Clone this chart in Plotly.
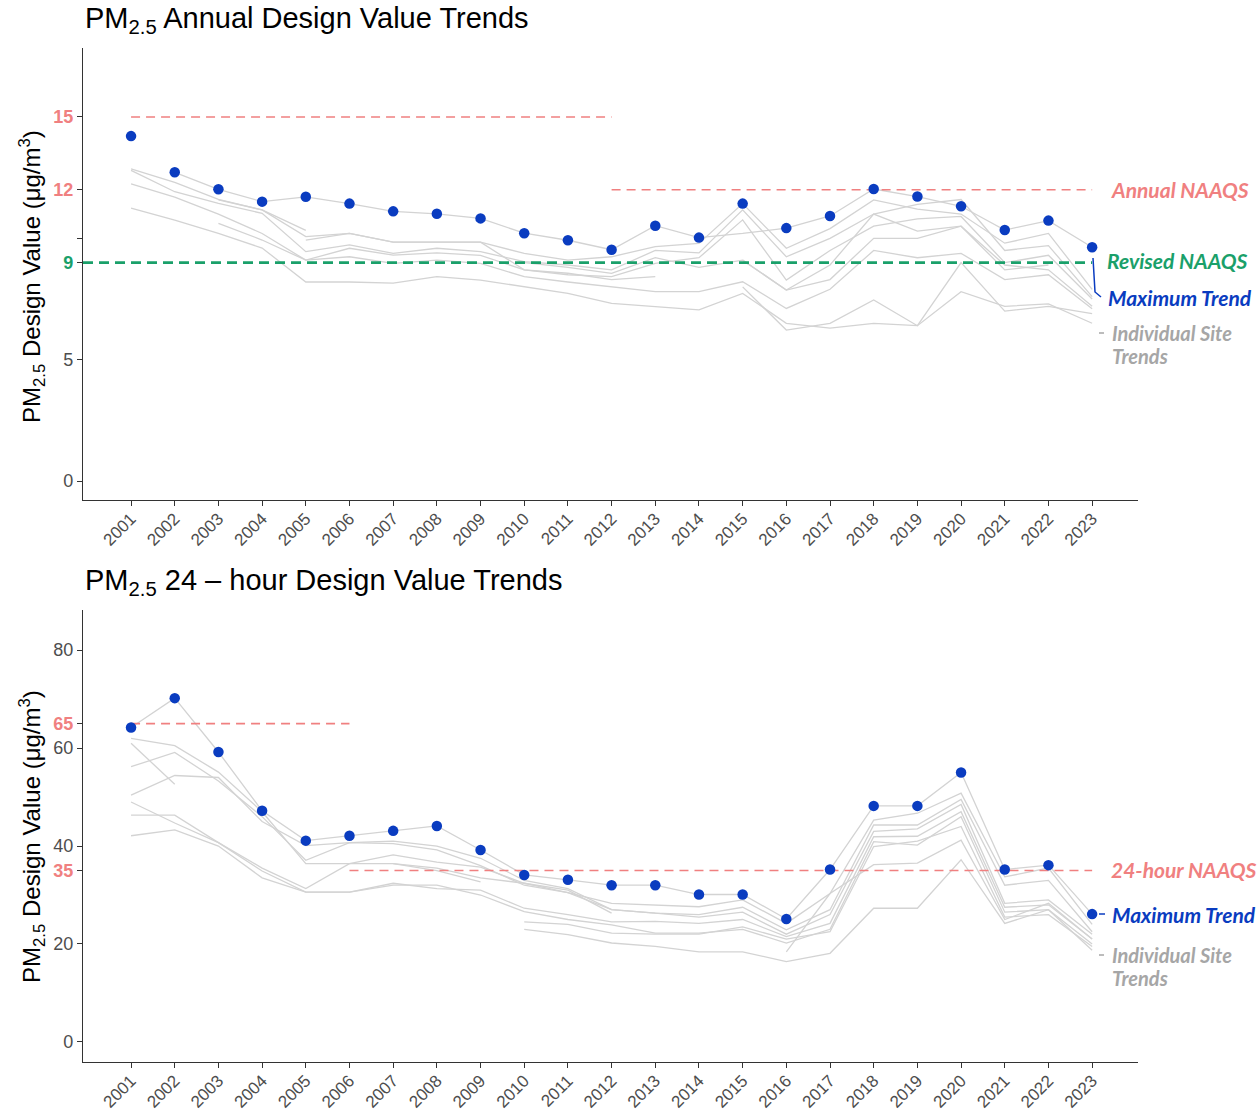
import plotly.graph_objects as go

W, H = 1260, 1114
PLOT_L, PLOT_R = 83, 1138          # plot-area edges in window pixels
ML = PLOT_L
MR = W - PLOT_R
PW = PLOT_R - PLOT_L

years = list(range(2001, 2024))
year_labels = [str(y) for y in years]

# ---------------- Annual chart data ----------------
annual_max = [14.21, 12.72, 12.02, 11.51, 11.71, 11.43, 11.11, 11.01, 10.82, 10.21, 9.92, 9.53,
              10.52, 10.03, 11.43, 10.42, 10.92, 12.03, 11.72, 11.32, 10.34, 10.73, 9.63]
N = None
annual_site_a = [N, 12.72, 12.02, 11.51, 11.71, 11.43, 11.11, 11.01, 10.82, 10.21, 9.92, 9.53,
                 10.52, 10.03, 10.2, 10.42, 10.92, 12.03, 11.72, 11.32, 10.34, 10.73, 9.63]
annual_site_b = [12.86, 12.3, 11.6, 11.17, 10.07, 10.2, 9.84, 9.84, 9.84, 9.38, 9.1, 9.24,
                 9.66, 9.79, 11.43, 9.59, 10.4, 11.58, 11.2, 11.0, 9.8, 10.2, 7.9]
annual_site_c = [12.8, 11.92, 11.44, 11.03, 9.45, 9.73, 9.38, 9.59, 9.45, 9.04, 8.9, 8.7,
                 9.5, 9.4, 11.17, 9.24, 10.0, 11.0, 11.4, 11.6, 9.5, 9.7, 7.6]
annual_site_d = [12.24, 11.7, 11.0, 10.2, 9.1, 9.59, 9.31, 9.4, 9.3, 8.7, 8.5, 8.42,
                 8.97, 9.2, 10.76, 8.28, 9.5, 10.5, 10.8, 10.9, 9.0, 9.3, 7.5]
annual_site_e = [11.24, 10.75, 10.2, 9.6, 8.2, 8.2, 8.15, 8.42, 8.28, 8.0, 7.73, 7.32,
                 7.2, 7.05, 7.73, 6.5, 6.3, 6.5, 6.4, 7.8, 7.2, 7.3, 6.5]
annual_site_f = [N, N, 10.62, 9.93, 9.1, 9.24, 8.97, 9.1, 8.97, 8.42, 8.2, 8.0,
                 7.8, 7.8, 8.21, 7.11, 7.9, 9.5, 9.2, 9.38, 8.3, 8.5, 7.1]
annual_site_g = [N, N, 11.58, 11.17, 10.33, N, N, N, N, N, N, N,
                 N, N, N, N, N, N, N, N, N, N, N]
annual_site_h = [N, N, N, N, 9.93, 10.2, 9.84, 9.84, 9.84, 8.7, 8.56, 8.3,
                 8.42, N, N, N, N, N, N, N, N, N, N]
annual_site_i = [N, N, N, N, N, N, N, N, N, 9.0, 8.8, 8.56,
                 9.2, 8.8, 9.1, 7.87, 8.3, 10.0, 10.0, 10.5, 8.9, 8.7, 7.2]
annual_site_j = [N, N, N, N, N, N, N, N, N, N, N, N,
                 N, N, 9.1, 7.87, 8.9, 11.0, 10.3, 10.5, 8.7, 8.9, N]
annual_site_k = [N, N, N, N, N, N, N, N, N, N, N, N,
                 N, N, 8.0, 6.22, 6.5, 7.46, 6.4, 9.0, 7.0, 7.2, 6.9]
annual_sites = [annual_site_a, annual_site_b, annual_site_c, annual_site_d, annual_site_e,
                annual_site_f, annual_site_g, annual_site_h, annual_site_i, annual_site_j,
                annual_site_k]

annual_old_naaqs_x = [2001, 2012]
annual_old_naaqs_y = [15, 15]
annual_naaqs_x = [2012, 2023]
annual_naaqs_y = [12, 12]
revised_naaqs_x = [1999.9, 2023]
revised_naaqs_y = [9, 9]

# ---------------- 24-hour chart data ----------------
daily_max = [64.2, 70.2, 59.2, 47.2, 41.1, 42.1, 43.1, 44.1, 39.2, 34.1, 33.1, 32.0,
             32.0, 30.1, 30.1, 25.1, 35.2, 48.2, 48.2, 55.0, 35.2, 36.1, 26.1]
daily_site_a = list(daily_max)
daily_site_b = [62.0, 60.5, 55.1, 47.0, 36.4, 36.4, 36.4, 35.5, 33.5, 32.4, 30.5, 28.3,
                27.9, 27.6, 29.0, 24.2, 30.3, 45.3, 46.7, 50.8, 33.7, 35.5, 24.0]
daily_site_c = [61.0, 52.6, N, N, N, N, N, N, N, N, N, N,
                N, N, N, N, N, N, N, N, N, N, N]
daily_site_d = [56.2, 59.1, 53.3, 46.0, 37.1, 40.7, 41.0, 40.0, 37.5, 33.0, 31.3, 27.0,
                26.3, 26.0, 27.5, 22.9, 27.0, 44.3, 44.3, 49.5, 32.0, 33.0, 22.5]
daily_site_e = [50.4, 54.4, 54.0, 45.0, 40.1, 40.7, 40.5, 39.2, 36.0, 32.0, 30.5, 27.0,
                26.3, 25.5, 26.5, 22.0, 26.0, 43.0, 43.5, 48.5, 28.3, 29.0, 22.0]
daily_site_f = [49.0, 44.7, 40.7, 35.5, 31.3, 36.4, 38.2, 36.7, 35.7, 32.4, 31.0, 26.3,
                N, N, N, N, N, N, N, N, N, N, N]
daily_site_g = [46.3, 46.3, 40.7, 34.9, 30.6, 30.6, 32.4, 31.3, 31.0, 27.3, 26.0, 24.5,
                24.6, 24.2, 25.0, 21.5, 24.2, 41.9, 42.0, 47.0, 27.5, 28.0, 21.0]
daily_site_h = [42.1, 43.3, 40.0, 33.5, 30.6, 30.6, 32.0, 32.0, 30.0, 26.6, 25.0, 23.9,
                22.2, 22.2, 23.0, 20.2, 23.0, 40.9, 40.2, 46.0, 26.5, 27.0, 20.0]
daily_site_i = [N, N, N, N, N, N, N, N, N, 24.5, 24.0, 22.2,
                22.0, 22.0, 23.5, 21.0, 22.5, 39.9, 41.0, 44.0, 25.5, 26.0, 19.5]
daily_site_j = [N, N, N, N, N, N, N, N, N, 23.0, 21.9, 20.2,
                19.5, 18.4, 18.4, 16.4, 18.1, 27.3, 27.3, 37.2, 24.2, 27.0, 18.7]
daily_site_k = [N, N, N, N, N, N, N, N, N, N, N, N,
                N, N, N, 18.4, 30.3, 36.2, 36.5, 41.2, 25.0, 28.3, 21.0]
daily_site_l = [N, N, N, N, N, N, 36.4, 35.0, 32.7, N, N, N,
                N, N, N, N, N, N, N, N, N, N, N]
daily_sites = [daily_site_a, daily_site_b, daily_site_c, daily_site_d, daily_site_e,
               daily_site_f, daily_site_g, daily_site_h, daily_site_i, daily_site_j,
               daily_site_k, daily_site_l]

daily_old_naaqs_x = [2001, 2006]
daily_old_naaqs_y = [65, 65]
daily_naaqs_x = [2006, 2023]
daily_naaqs_y = [35, 35]

# ---------------- styling ----------------
RED = "#F08080"
GREEN = "#1AA06A"
BLUE = "#0A3CC0"
GRAY_LINE = "#D3D3D3"
GRAY_TXT = "#A6A6A6"
AX = "#333333"
TICK_TXT = "#4D4D4D"
FONT = "Liberation Sans, Arial, sans-serif"
ANN_FONT = "Lato, Open Sans, sans-serif"


def px(x):
    """window pixel x -> paper coordinate"""
    return (x - PLOT_L) / PW


def py(y):
    """window pixel y -> paper coordinate"""
    return 1 - y / H


fig = go.Figure()


def add_panel(sites, xa, ya):
    for s in sites:
        fig.add_trace(go.Scatter(x=years, y=s, mode="lines", xaxis=xa, yaxis=ya,
                                 line=dict(color=GRAY_LINE, width=1.3),
                                 connectgaps=False, showlegend=False, hoverinfo="skip"))


add_panel(annual_sites, "x", "y")
fig.add_trace(go.Scatter(x=annual_old_naaqs_x, y=annual_old_naaqs_y, mode="lines",
                         line=dict(color=RED, width=1.6, dash="9px,6px"), showlegend=False))
fig.add_trace(go.Scatter(x=annual_naaqs_x, y=annual_naaqs_y, mode="lines",
                         line=dict(color=RED, width=1.6, dash="9px,6px"), showlegend=False))
fig.add_trace(go.Scatter(x=revised_naaqs_x, y=revised_naaqs_y, mode="lines",
                         line=dict(color=GREEN, width=2.6, dash="10px,6px"), showlegend=False))
fig.add_trace(go.Scatter(x=years, y=annual_max, mode="markers",
                         marker=dict(color=BLUE, size=10.5), showlegend=False))

add_panel(daily_sites, "x2", "y2")
fig.add_trace(go.Scatter(x=daily_old_naaqs_x, y=daily_old_naaqs_y, mode="lines", xaxis="x2", yaxis="y2",
                         line=dict(color=RED, width=1.6, dash="9px,6px"), showlegend=False))
fig.add_trace(go.Scatter(x=daily_naaqs_x, y=daily_naaqs_y, mode="lines", xaxis="x2", yaxis="y2",
                         line=dict(color=RED, width=1.6, dash="9px,6px"), showlegend=False))
fig.add_trace(go.Scatter(x=years, y=daily_max, mode="markers", xaxis="x2", yaxis="y2",
                         marker=dict(color=BLUE, size=10.5), showlegend=False))


def col(t, c):
    return f'<span style="color:{c}"><b>{t}</b></span>'


xcommon = dict(range=[1999.9, 2024.05], tickvals=years, ticktext=year_labels, tickangle=-45,
               ticks="outside", ticklen=5, tickcolor=AX, showline=True, linecolor=AX, linewidth=1.2,
               showgrid=False, zeroline=False, tickfont=dict(family=FONT, size=17, color=TICK_TXT),
               ticklabelstandoff=-4, automargin=False, fixedrange=True)
ycommon = dict(ticks="outside", ticklen=5, tickcolor=AX, showline=True, linecolor=AX, linewidth=1.2,
               showgrid=False, zeroline=False, tickfont=dict(family=FONT, size=18, color=TICK_TXT),
               automargin=False)

fig.update_layout(
    width=W, height=H,
    margin=dict(l=ML, r=MR, t=0, b=0),
    plot_bgcolor="white", paper_bgcolor="white",
    xaxis=dict(domain=[0, 1], anchor="y", **xcommon),
    yaxis=dict(domain=[py(500), py(48)], anchor="x", range=[-0.78, 17.84],
               tickvals=[0, 5, 9, 10, 12, 15],
               ticktext=["0", "5", col("9", GREEN), "", col("12", RED), col("15", RED)],
               **ycommon),
    xaxis2=dict(domain=[0, 1], anchor="y2", **xcommon),
    yaxis2=dict(domain=[py(1062), py(610)], anchor="x2", range=[-4.1, 88.2],
                tickvals=[0, 20, 35, 40, 60, 65, 80],
                ticktext=["0", "20", col("35", RED), "40", "60", col("65", RED), "80"],
                **ycommon),
    showlegend=False,
)

anns = []
# titles
anns.append(dict(text="PM<sub>2.5</sub> Annual Design Value Trends", x=px(83), y=py(20),
                 xanchor="left", yanchor="middle", font=dict(family=FONT, size=29, color="black")))
anns.append(dict(text="PM<sub>2.5</sub> 24 \u2013 hour Design Value Trends", x=px(83), y=py(582),
                 xanchor="left", yanchor="middle", font=dict(family=FONT, size=29, color="black")))
# y-axis titles
for yc in (277, 837):
    anns.append(dict(text="PM<sub>2.5</sub> Design Value (\u03bcg/m<sup>3</sup>)", x=px(32), y=py(yc),
                     xanchor="center", yanchor="middle", textangle=-90,
                     font=dict(family=FONT, size=24, color="black")))


def label(t, x, y, c, size=21):
    anns.append(dict(text=f"<b><i>{t}</i></b>", x=px(x), y=py(y), xanchor="left", yanchor="middle",
                     font=dict(family=ANN_FONT, size=size, color=c)))


label("Annual NAAQS", 1109, 190, RED)
label("Revised NAAQS", 1105, 261, GREEN)
label("Maximum Trend", 1106, 297, BLUE)
label("Individual Site", 1110, 333, GRAY_TXT, 20)
label("Trends", 1110, 356, GRAY_TXT, 20)
label("24-hour NAAQS", 1109, 869, RED)
label("Maximum Trend", 1110, 914, BLUE)
label("Individual Site", 1110, 955, GRAY_TXT, 20)
label("Trends", 1110, 978, GRAY_TXT, 20)

for a in anns:
    a.update(xref="paper", yref="paper", showarrow=False)
fig.update_layout(annotations=anns)

shapes = [
    dict(type="path", path=f"M {px(1093)} {py(258)} L {px(1095)} {py(292)} L {px(1101)} {py(297)}",
         xref="paper", yref="paper", line=dict(color=BLUE, width=1.5)),
    dict(type="line", x0=px(1099), x1=px(1104), y0=py(333), y1=py(333), xref="paper", yref="paper",
         line=dict(color=GRAY_TXT, width=1.5)),
    dict(type="line", x0=px(1099), x1=px(1105), y0=py(914), y1=py(914), xref="paper", yref="paper",
         line=dict(color=BLUE, width=1.5)),
    dict(type="line", x0=px(1099), x1=px(1104), y0=py(955), y1=py(955), xref="paper", yref="paper",
         line=dict(color=GRAY_TXT, width=1.5)),
]
fig.update_layout(shapes=shapes)

# remove the browser's default 8px body margin so the figure sits at the window corner
fig.write_html("out.html", config={"displayModeBar": False},
               post_script="document.body.style.margin='0';document.body.style.overflow='hidden';")
